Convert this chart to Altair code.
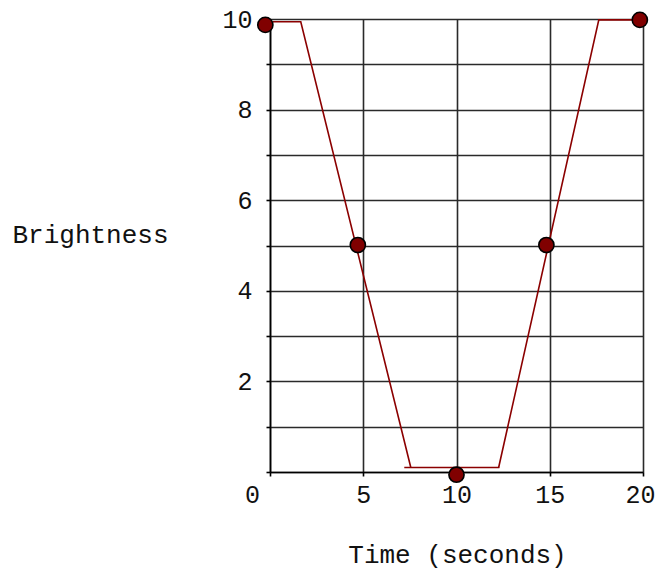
import altair as alt
import pandas as pd

# Piecewise brightness profile (three drawn segments)
line_x = [0.15, 1.65, 7.55, 7.2, 12.3, 12.26, 17.63, 19.83]
line_y = [9.94, 9.94, 0.1, 0.1, 0.1, 0.1, 9.98, 9.98]
line_seg = ["a", "a", "a", "b", "b", "c", "c", "c"]

# Marked sample points
point_x = [-0.25, 4.71, 10.0, 14.82, 19.83]
point_y = [9.87, 5.01, -0.06, 5.01, 9.98]

x_ticks = [0, 5, 10, 15, 20]
y_ticks = list(range(11))

line_df = pd.DataFrame({"x": line_x, "y": line_y, "seg": line_seg})
pt_df = pd.DataFrame({"x": point_x, "y": point_y})

FONT = "Liberation Mono"

x_enc = alt.X(
    "x:Q",
    scale=alt.Scale(domain=[0, 20], nice=False, zero=False),
    axis=alt.Axis(
        values=x_ticks,
        title="Time (seconds)",
        titleX=187,
        titleY=82,
        titleAlign="center",
        titleBaseline="middle",
        labelFlush=False,
        labelOffset={
            "condition": [
                {"test": "datum.value == 0", "value": -18},
                {"test": "datum.value == 20", "value": -3},
            ],
            "value": 0,
        },
        labelPadding=6,
    ),
)
y_enc = alt.Y(
    "y:Q",
    scale=alt.Scale(domain=[0, 10], nice=False, zero=False),
    axis=alt.Axis(
        values=y_ticks,
        labelExpr="(datum.value % 2 == 0 && datum.value > 0) ? datum.label : ''",
        labelFlush=False,
        title="Brightness",
        titleAngle=0,
        titleAlign="left",
        titleBaseline="middle",
        titleX=-258,
        titleY=215,
        labelPadding=14,
    ),
)

line = alt.Chart(line_df).mark_line(color="#8b0000", strokeWidth=1.6, clip=False).encode(
    x=x_enc, y=y_enc, detail="seg:N"
)
pts = alt.Chart(pt_df).mark_point(
    filled=True, fill="#800000", stroke="black", strokeWidth=1.6, size=230, opacity=1, shape="circle", clip=False
).encode(x="x:Q", y="y:Q")

chart = (
    alt.layer(line, pts)
    .properties(
        width=373,
        height=453,
        autosize=alt.AutoSizeParams(type="none"),
        padding={"left": 262, "top": 11, "right": 12, "bottom": 100},
    )
    .configure_view(stroke=None)
    .configure_axis(
        grid=True,
        gridColor="#2a2a2a",
        gridWidth=1.6,
        gridOpacity=1,
        domainColor="black",
        domainWidth=1.6,
        tickColor="black",
        tickSize=4,
        tickWidth=1.6,
        labelFont=FONT,
        labelFontSize=25,
        labelColor="#111",
        titleFont=FONT,
        titleFontSize=26,
        titleFontWeight="normal",
        titleColor="#111",
    )
)

chart.save("out.html", embed_options={"renderer": "svg", "actions": False})
